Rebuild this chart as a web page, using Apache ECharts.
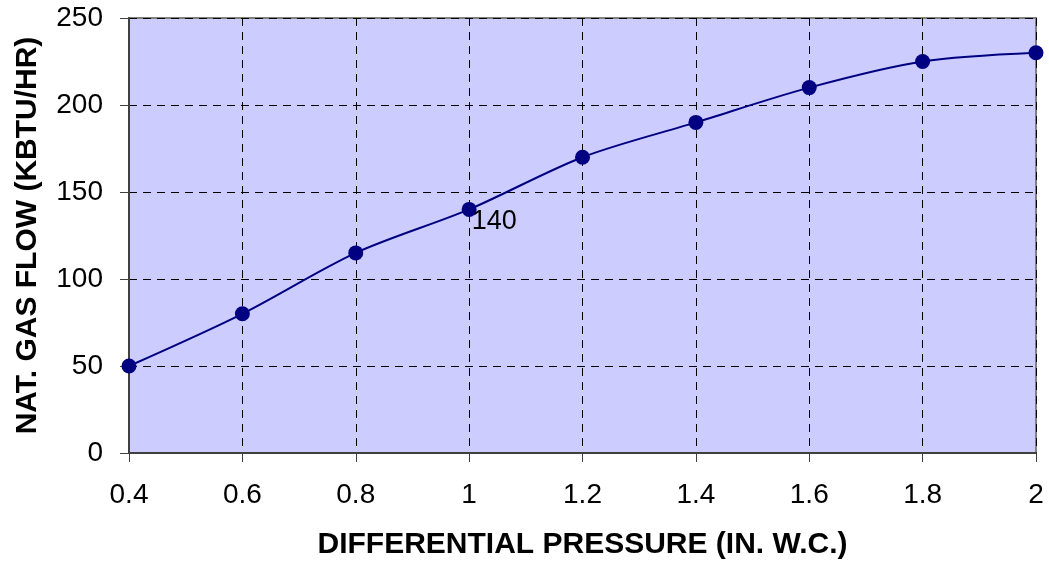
<!DOCTYPE html>
<html>
<head>
<meta charset="utf-8">
<script src="https://cdn.jsdelivr.net/npm/echarts@6/dist/echarts.min.js"></script>
<style>html,body{margin:0;padding:0;background:#fff;}#c{width:1049px;height:565px;}</style>
</head>
<body>
<div id="c"></div>
<script>
const pressure = [0.4, 0.6, 0.8, 1.0, 1.2, 1.4, 1.6, 1.8, 2.0];
const gasFlow = [50, 80, 115, 140, 170, 190, 210, 225, 230];
const labelledIndex = 3;
const xTitle = 'DIFFERENTIAL PRESSURE (IN. W.C.)';
const yTitle = 'NAT. GAS FLOW (KBTU/HR)';

const font = 'Liberation Sans, Arial, sans-serif';
const chart = echarts.init(document.getElementById('c'), null, {renderer: 'canvas'});
chart.setOption({
  animation: false,
  grid: {left: 129, right: 13, top: 18, bottom: 112, show: true, backgroundColor: '#CCCCFF', borderColor: '#808080', borderWidth: 2},
  xAxis: {
    type: 'value', min: 0.4, max: 2, interval: 0.2,
    name: xTitle, nameLocation: 'middle', nameGap: 77,
    nameTextStyle: {fontFamily: font, fontSize: 30, fontWeight: 'bold', color: '#000'},
    axisLine: {show: true, lineStyle: {color: '#404040', width: 2}},
    axisTick: {show: true, length: 9, lineStyle: {color: '#404040', width: 1}},
    axisLabel: {fontFamily: font, fontSize: 28, color: '#000', margin: 28, formatter: v => String(Math.round(v*10)/10)},
    splitLine: {show: true, lineStyle: {color: '#000', type: [8, 6], width: 1}}
  },
  yAxis: {
    type: 'value', min: 0, max: 250, interval: 50,
    name: yTitle, nameLocation: 'middle', nameGap: 86, nameRotate: 90,
    nameTextStyle: {fontFamily: font, fontSize: 30, fontWeight: 'bold', color: '#000'},
    axisLine: {show: true, lineStyle: {color: '#404040', width: 2}},
    axisTick: {show: true, length: 9, lineStyle: {color: '#404040', width: 1}},
    axisLabel: {fontFamily: font, fontSize: 28, color: '#000', margin: 26},
    splitLine: {show: true, lineStyle: {color: '#000', type: [8, 6], width: 1}}
  },
  series: [{
    type: 'line',
    smooth: 0.3,
    data: pressure.map((p, i) => {
      const d = {value: [p, gasFlow[i]]};
      if (i === labelledIndex) {
        d.label = {show: true, position: [10, 6], align: 'left', verticalAlign: 'top', fontFamily: font, fontSize: 27, color: '#000', formatter: '{@[1]}'};
      }
      return d;
    }),
    symbol: 'circle', symbolSize: 15,
    itemStyle: {color: '#000080'},
    lineStyle: {color: '#000080', width: 2},
    label: {show: false},
    z: 5
  }]
});
</script>
</body>
</html>
